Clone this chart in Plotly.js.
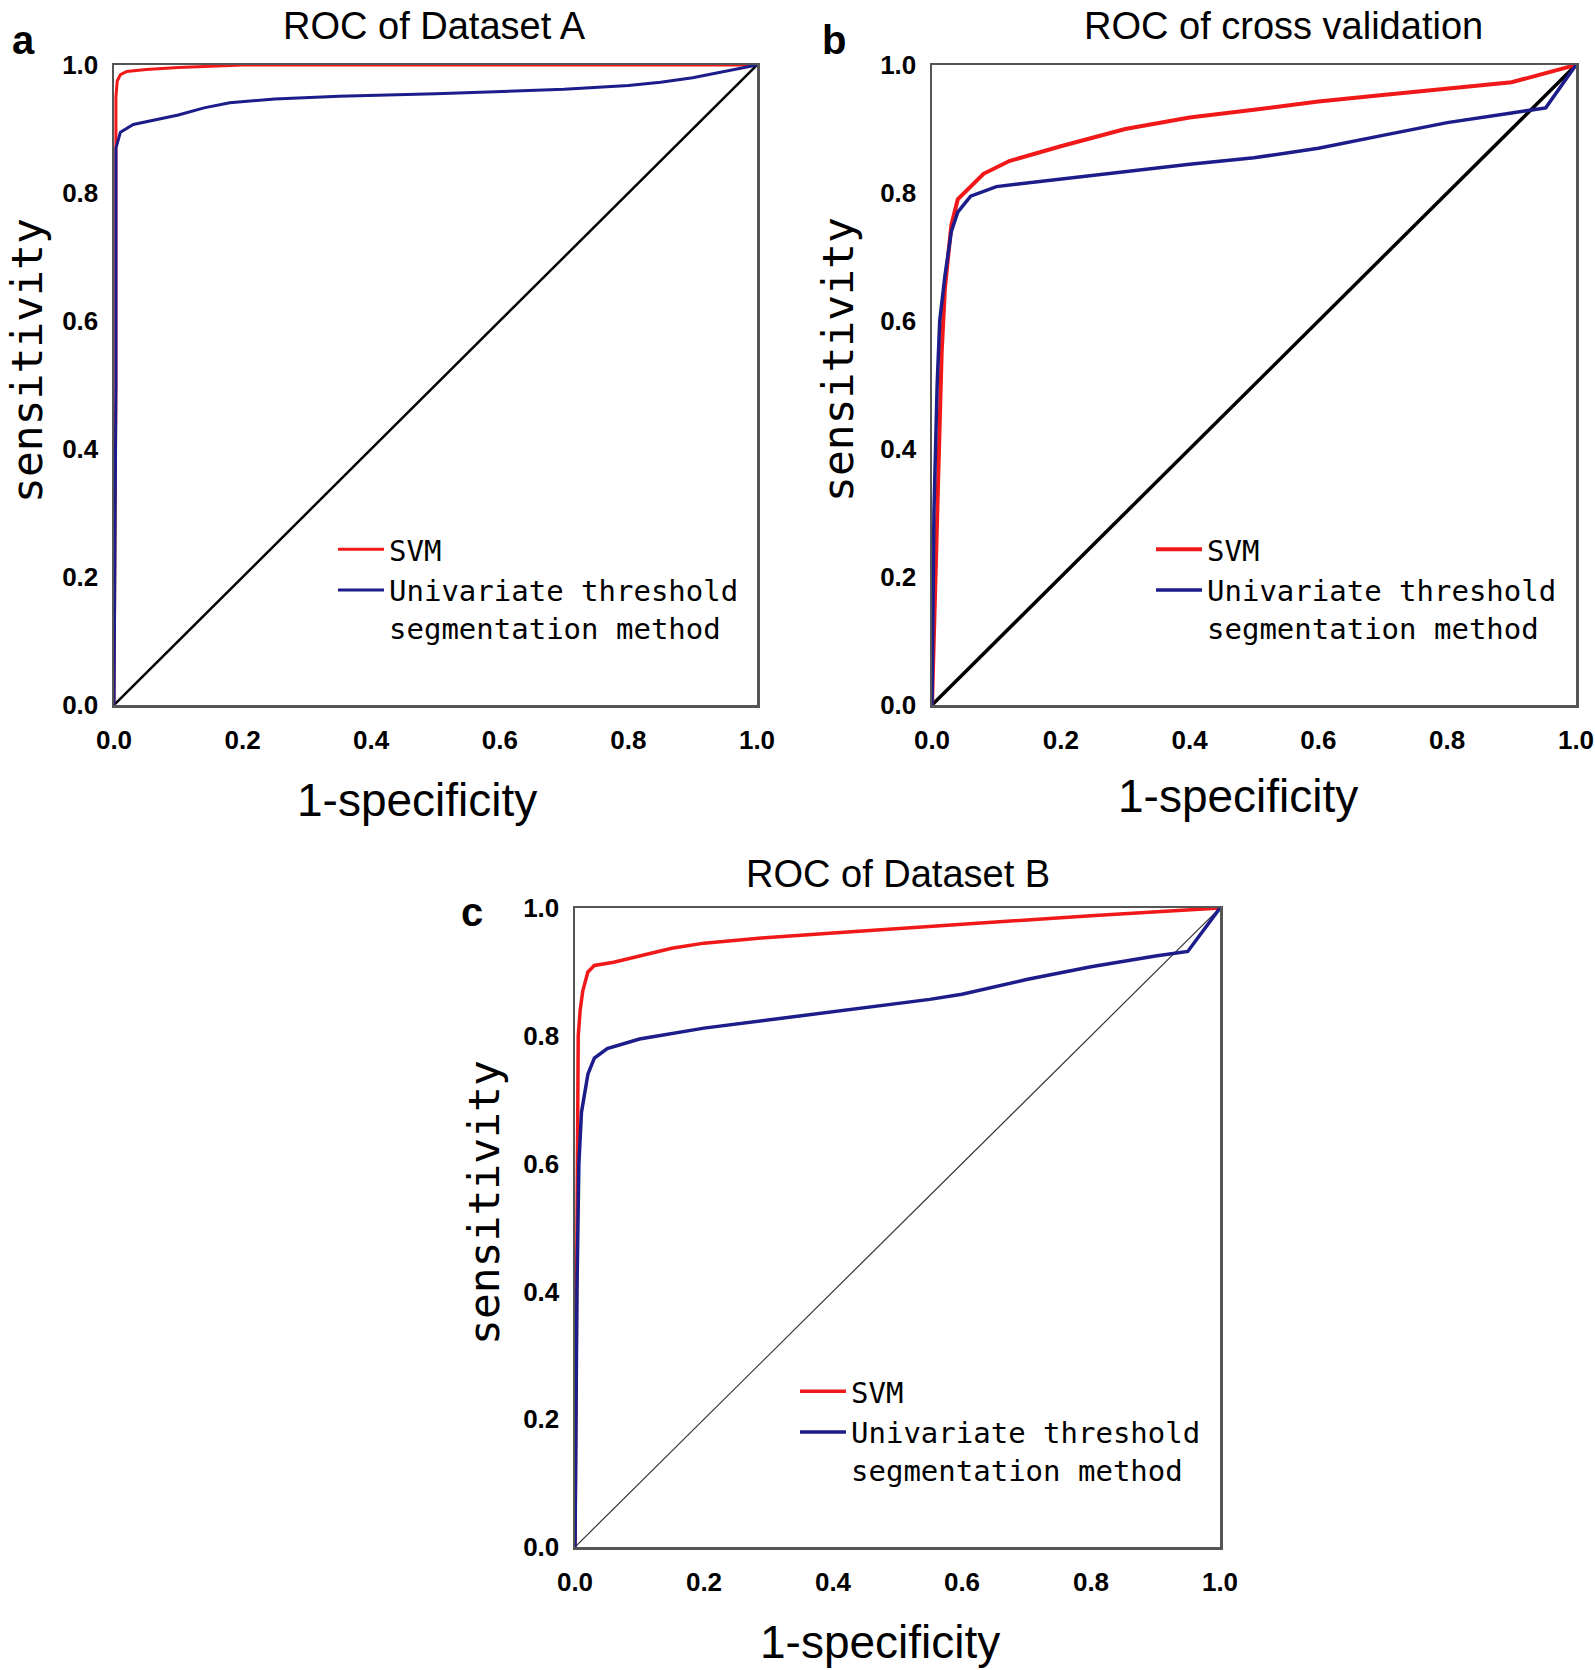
<!DOCTYPE html>
<html>
<head>
<meta charset="utf-8">
<script src="https://cdn.plot.ly/plotly-3.0.1.min.js"></script>
<style>
  body { margin: 0; background: #fff; }
  #roc { width: 1595px; height: 1670px; }
</style>
</head>
<body>
<div id="roc"></div>
<script>
// panel a - Dataset A
const aSvmX = [0, 0.003, 0.003, 0.005, 0.01, 0.02, 0.05, 0.1, 0.2, 0.5, 1.0];
const aSvmY = [0, 0.5, 0.95, 0.975, 0.985, 0.99, 0.993, 0.996, 1.0, 1.0, 1.0];
const aUniX = [0, 0.003, 0.003, 0.01, 0.03, 0.07, 0.1, 0.14, 0.18, 0.25, 0.35, 0.5, 0.6, 0.7, 0.8, 0.85, 0.9, 0.95, 1.0];
const aUniY = [0, 0.5, 0.87, 0.895, 0.907, 0.915, 0.922, 0.933, 0.941, 0.947, 0.951, 0.955, 0.958, 0.962, 0.968, 0.973, 0.98, 0.99, 1.0];

// panel b - cross validation
const bSvmX = [0, 0.005, 0.01, 0.015, 0.02, 0.03, 0.04, 0.06, 0.08, 0.12, 0.16, 0.2, 0.3, 0.4, 0.5, 0.6, 0.7, 0.8, 0.9, 1.0];
const bSvmY = [0, 0.2, 0.4, 0.55, 0.65, 0.75, 0.79, 0.81, 0.83, 0.85, 0.862, 0.873, 0.9, 0.918, 0.93, 0.943, 0.953, 0.963, 0.973, 1.0];
const bUniX = [0, 0.003, 0.008, 0.012, 0.02, 0.03, 0.04, 0.06, 0.1, 0.2, 0.3, 0.4, 0.5, 0.55, 0.6, 0.7, 0.8, 0.9, 0.953, 1.0];
const bUniY = [0, 0.3, 0.5, 0.6, 0.67, 0.74, 0.77, 0.795, 0.81, 0.822, 0.833, 0.845, 0.855, 0.862, 0.87, 0.89, 0.91, 0.925, 0.933, 1.0];

// panel c - Dataset B
const cSvmX = [0, 0.003, 0.005, 0.008, 0.012, 0.02, 0.03, 0.06, 0.1, 0.15, 0.2, 0.3, 0.4, 0.6, 0.8, 1.0];
const cSvmY = [0, 0.6, 0.8, 0.84, 0.87, 0.9, 0.91, 0.915, 0.925, 0.937, 0.945, 0.954, 0.961, 0.975, 0.988, 1.0];
const cUniX = [0, 0.003, 0.006, 0.01, 0.02, 0.03, 0.05, 0.1, 0.2, 0.3, 0.4, 0.5, 0.55, 0.6, 0.7, 0.8, 0.9, 0.95, 1.0];
const cUniY = [0, 0.4, 0.6, 0.68, 0.74, 0.765, 0.78, 0.795, 0.812, 0.825, 0.838, 0.85, 0.857, 0.865, 0.888, 0.908, 0.925, 0.932, 1.0];

const diagX = [0, 1];
const diagY = [0, 1];

const tickVals = [0, 0.2, 0.4, 0.6, 0.8, 1.0];
const svmName = "SVM";
const uniName = "Univariate threshold<br>segmentation method";

const RED = "#f01818";
const NAVY = "#1c1c8a";
const SANS = "Liberation Sans, Arial, sans-serif";
const MONO = "DejaVu Sans Mono, Liberation Mono, monospace";

function curve(x, y, name, color, width, xa, ya, leg, show) {
  return {
    type: "scatter", mode: "lines", x: x, y: y, name: name,
    xaxis: xa, yaxis: ya, legend: leg, showlegend: show,
    line: { color: color, width: width }
  };
}

const data = [
  curve(diagX, diagY, "", "#000", 2.5, "x", "y", "legend", false),
  curve(aSvmX, aSvmY, svmName, RED, 3, "x", "y", "legend", true),
  curve(aUniX, aUniY, uniName, NAVY, 3, "x", "y", "legend", true),

  curve(diagX, diagY, "", "#000", 3.5, "x2", "y2", "legend2", false),
  curve(bSvmX, bSvmY, svmName, RED, 4, "x2", "y2", "legend2", true),
  curve(bUniX, bUniY, uniName, NAVY, 3.5, "x2", "y2", "legend2", true),

  curve(diagX, diagY, "", "#333", 1.2, "x3", "y3", "legend3", false),
  curve(cSvmX, cSvmY, svmName, RED, 3.5, "x3", "y3", "legend3", true),
  curve(cUniX, cUniY, uniName, NAVY, 3.5, "x3", "y3", "legend3", true),
];

const tickFont = { family: SANS, size: 26, color: "#000", weight: "bold" };

function xAxis(dom, anchor) {
  return {
    domain: dom, anchor: anchor, range: [0, 1],
    showline: true, mirror: true, linecolor: "#555", linewidth: 2.5,
    showgrid: false, zeroline: false, ticks: "",
    tickvals: tickVals, tickformat: ".1f", ticklabelstandoff: 10,
    ticklabeloverflow: "allow", tickfont: tickFont
  };
}
function yAxis(dom, anchor) {
  return {
    domain: dom, anchor: anchor, range: [0, 1],
    showline: true, mirror: true, linecolor: "#555", linewidth: 2.5,
    showgrid: false, zeroline: false, ticks: "",
    tickvals: tickVals, tickformat: ".1f", ticklabelstandoff: 8,
    ticklabeloverflow: "allow", tickfont: tickFont
  };
}
function legendAt(x, y) {
  return {
    x: x, y: y, xanchor: "left", yanchor: "top",
    bgcolor: "rgba(0,0,0,0)", borderwidth: 0, valign: "top",
    itemwidth: 46, tracegroupgap: 0,
    font: { family: MONO, size: 29, color: "#000" }
  };
}

const W = 1595, H = 1670;
const px = v => v / W;
const py = v => 1 - v / H;

function label(text, x, y, font, angle) {
  return { text: text, x: px(x), y: py(y), xref: "paper", yref: "paper",
           xanchor: "center", yanchor: "middle", showarrow: false,
           textangle: angle || 0, font: font };
}
const titleFont = { family: SANS, size: 38, color: "#000" };
const letterFont = { family: SANS, size: 40, color: "#000", weight: "bold" };
const xTitleFont = { family: SANS, size: 46, color: "#000" };
const yTitleFont = { family: MONO, size: 43, color: "#000" };

const layout = {
  width: W, height: H,
  margin: { l: 0, r: 0, t: 0, b: 0 },
  paper_bgcolor: "#fff", plot_bgcolor: "#fff",
  showlegend: true,
  xaxis: xAxis([px(114), px(757)], "y"),
  yaxis: yAxis([py(705), py(65)], "x"),
  xaxis2: xAxis([px(932), px(1576)], "y2"),
  yaxis2: yAxis([py(705), py(65)], "x2"),
  xaxis3: xAxis([px(575), px(1220)], "y3"),
  yaxis3: yAxis([py(1547), py(908)], "x3"),
  legend: legendAt(px(333), py(524)),
  legend2: legendAt(px(1151), py(524)),
  legend3: legendAt(px(795), py(1366)),
  annotations: [
    label("ROC of Dataset A", 434, 26, titleFont),
    label("ROC of cross validation", 1283, 26, titleFont),
    label("ROC of Dataset B", 898, 874, titleFont),
    label("a", 23, 40, letterFont),
    label("b", 834, 40, letterFont),
    label("c", 472, 912, letterFont),
    label("1-specificity", 417, 800, xTitleFont),
    label("1-specificity", 1238, 796, xTitleFont),
    label("1-specificity", 880, 1642, xTitleFont),
    label("sensitivity", 27, 361, yTitleFont, -90),
    label("sensitivity", 838, 360, yTitleFont, -90),
    label("sensitivity", 484, 1203, yTitleFont, -90),
  ]
};

Plotly.newPlot("roc", data, layout, { displayModeBar: false, staticPlot: true });
</script>
</body>
</html>
